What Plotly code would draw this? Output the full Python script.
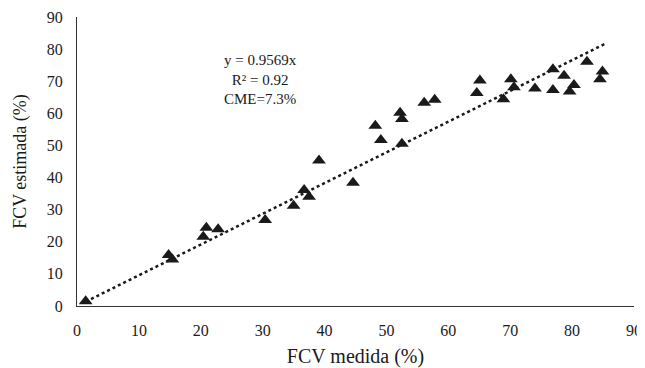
import plotly.graph_objects as go

fcv_medida = [1.4, 14.8, 15.4, 20.4, 20.9, 22.8, 30.4, 35.0, 36.7, 37.5, 39.1,
              44.6, 48.2, 49.1, 52.5, 52.2, 52.5, 56.1, 57.8, 64.6, 65.1, 68.9,
              70.1, 70.6, 74.0, 76.9, 76.9, 78.7, 79.6, 80.3, 82.4, 84.9, 84.5]
fcv_estimada = [1.5, 15.9, 14.5, 21.6, 24.4, 23.9, 26.8, 31.2, 36.1, 34.0, 45.3,
                38.4, 56.1, 51.7, 50.5, 60.2, 58.2, 63.3, 64.2, 66.3, 70.2, 64.4,
                70.6, 68.1, 67.7, 73.7, 67.3, 71.7, 66.8, 68.8, 76.1, 73.0, 70.6]
slope = 0.9569
x_ticks = list(range(0, 91, 10))
y_ticks = list(range(0, 91, 10))

font_family = "Liberation Serif, Times New Roman, serif"
txt = "#1a1a1a"

xmin, xmax = min(fcv_medida), 85.5
trend_x = [xmin, xmax]
trend_y = [slope * v for v in trend_x]

fig = go.Figure()
fig.add_trace(go.Scatter(
    x=trend_x, y=trend_y, mode="lines",
    line=dict(color="#1a1a1a", width=2.5, dash="dot"),
    showlegend=False, hoverinfo="skip"))
fig.add_trace(go.Scatter(
    x=fcv_medida, y=fcv_estimada, mode="markers",
    marker=dict(symbol="triangle-up", size=12, color="#1a1a1a"),
    showlegend=False))

fig.add_annotation(
    x=29.6, y=70.4, xref="x", yref="y",
    text="y = 0.9569x<br>R² = 0.92<br>CME=7.3%",
    showarrow=False, align="center",
    font=dict(family=font_family, size=15, color=txt))

fig.update_layout(
    width=645, height=360,
    margin=dict(l=69, r=19, t=9, b=62, autoexpand=False),
    paper_bgcolor="white", plot_bgcolor="white",
    font=dict(family=font_family, size=16, color=txt),
    xaxis=dict(range=[0, 90], tickvals=x_ticks, showgrid=False, zeroline=False,
               showline=True, linecolor="#333", linewidth=1.2, automargin=False,
               ticks="outside", ticklen=10, tickcolor="rgba(0,0,0,0)",
               ticklabeloverflow="allow",
               title=dict(text="FCV medida (%)", font=dict(size=20))),
    yaxis=dict(range=[0, 90], tickvals=y_ticks, showgrid=False, zeroline=False,
               showline=True, linecolor="#333", linewidth=1.2, automargin=False,
               ticks="outside", ticklen=10, tickcolor="rgba(0,0,0,0)",
               ticklabeloverflow="allow",
               title=dict(text="FCV estimada (%)", font=dict(size=18))),
)

fig.write_html("out.html")
